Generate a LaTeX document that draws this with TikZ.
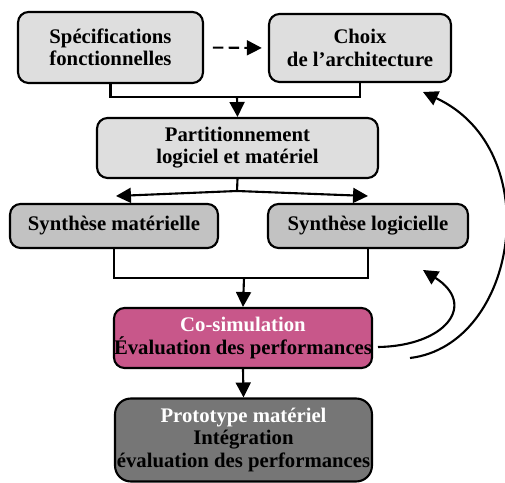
\documentclass[tikz,border=0pt]{standalone}
\usepackage{fontspec}
\setmainfont{Liberation Serif}
\usetikzlibrary{arrows.meta}
\definecolor{boxlight}{HTML}{DEDEDE}
\definecolor{boxmid}{HTML}{C2C2C2}
\definecolor{boxrose}{HTML}{C8578A}
\definecolor{boxdark}{HTML}{767676}
\tikzset{
  etape/.style={draw,line width=1.2pt,rounded corners=6pt,align=center,inner sep=0pt,
    font=\fontsize{11.8}{12.6}\selectfont\bfseries},
  fleche/.style={line width=1.2pt,-{Triangle[length=8.5pt,width=8.5pt]}},
  liaison/.style={line width=1.2pt}
}
\begin{document}
\begin{tikzpicture}[x=0.02cm,y=-0.02cm]
  \useasboundingbox (0,0) rectangle (505,483);
  % etapes du flot de conception
  \node[etape,fill=boxlight,minimum width=3.7cm,minimum height=1.42cm] (spec) at (110.5,47.5) {Spécifications\\fonctionnelles};
  \node[etape,fill=boxlight,minimum width=3.64cm,minimum height=1.36cm] (choix) at (360,48) {Choix\\de l'architecture};
  \node[etape,fill=boxlight,minimum width=5.62cm,minimum height=1.2cm] (part) at (237.5,148) {Partitionnement\\logiciel et matériel};
  \node[etape,fill=boxmid,minimum width=4.16cm,minimum height=0.88cm] (synmat) at (114,226) {Synthèse matérielle};
  \node[etape,fill=boxmid,minimum width=4cm,minimum height=0.88cm] (synlog) at (368,226) {Synthèse logicielle};
  \node[etape,fill=boxrose,minimum width=5cm,minimum height=1.2cm] (cosim) at (243,338) {\textcolor{white}{Co-simulation}\\Évaluation des performances};
  \node[etape,fill=boxdark,rounded corners=9pt,minimum width=5.14cm,minimum height=1.66cm] (proto) at (243.5,440) {\textcolor{white}{Prototype matériel}\\Intégration\\évaluation des performances};
  % points de jonction
  \coordinate (j1) at (237,97);
  \coordinate (j2) at (237,191);
  \coordinate (t1) at (116,196);
  \coordinate (t2) at (368,196);
  \coordinate (j3) at (244,278);
  \coordinate (r1) at (378,347);
  \coordinate (r2) at (410,358);
  \coordinate (b1) at (423,270);
  \coordinate (b2) at (423,92);
  % liaisons
  \draw[fleche,dashed,dash pattern=on 6pt off 3pt,shorten <=5pt,shorten >=3.5pt] (spec.east) -- (choix.west);
  \draw[liaison] (spec.south) |- (j1) -| (choix.south);
  \draw[fleche] (j1) -- (part.north);
  \draw[liaison] (part.south) -- (j2);
  \draw[fleche] (j2) -- (t1);
  \draw[fleche] (j2) -- (t2);
  \draw[liaison] (synmat.south) |- (j3) -| (synlog.south);
  \draw[fleche] (j3) -- (cosim.north);
  \draw[fleche] (cosim.south) -- (proto.north);
  % retours
  \draw[fleche] (r1) .. controls (445,346) and (478,305) .. (b1);
  \draw[fleche] (r2) .. controls (518,345) and (548,150) .. (b2);
\end{tikzpicture}
\end{document}
